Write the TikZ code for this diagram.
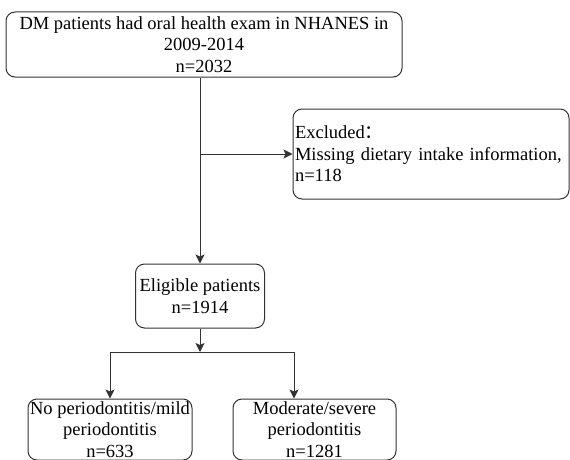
\documentclass[tikz,border=0pt]{standalone}
\usepackage{fontspec}
\setmainfont{Liberation Serif}
\newfontfamily\cjk{Noto Sans CJK SC}
\usetikzlibrary{arrows.meta, positioning}

\begin{document}
\begin{tikzpicture}[
  x=1pt, y=-1pt,
  every node/.style={font=\fontsize{18.5}{21.5}\selectfont},
  stage/.style={
    rectangle, rounded corners=9pt,
    draw=black!80, line width=1pt,
    align=center, inner sep=1pt
  },
  arrow/.style={-{Stealth[length=9pt, width=9pt, inset=2pt]}, line width=1pt, draw=black!80},
  link/.style={line width=1pt, draw=black!80}
]
\useasboundingbox (0,0) rectangle (570,460);

%% --- Cohort ---
\node[stage, minimum width=396pt, minimum height=65pt] (cohort) at (204,44.5)
      {DM patients had oral health exam in NHANES in\\2009-2014\\n=2032};
\node[stage, minimum width=276pt, minimum height=90pt,
      text width=272pt, align=left] (excluded) at (431,154)
      {Excluded{\cjk ：}\\Missing dietary intake information,\\n=118};
\node[stage, minimum width=129pt, minimum height=64pt] (eligible) at (200,296)
      {Eligible patients\\n=1914};

\coordinate (branch) at (eligible |- excluded);
\draw[arrow] (cohort.south -| eligible) -- (eligible);
\draw[arrow] (branch) -- (excluded);

%% --- Periodontitis groups ---
\node[stage, minimum width=164pt, minimum height=61pt] (mild) at (110,429.5)
      {No periodontitis/mild\\periodontitis\\n=633};
\node[stage, minimum width=163pt, minimum height=61pt] (severe) at (314.5,429.5)
      {Moderate/severe\\periodontitis\\n=1281};

\coordinate (fork) at (200,352);
\coordinate (drop) at (294,352);
\draw[arrow] (eligible) -- (fork);
\draw[link]  (fork -| mild) -- (drop);
\draw[arrow] (fork -| mild) -- (mild);
\draw[arrow] (drop) -- (drop |- severe.north);

\end{tikzpicture}
\end{document}
